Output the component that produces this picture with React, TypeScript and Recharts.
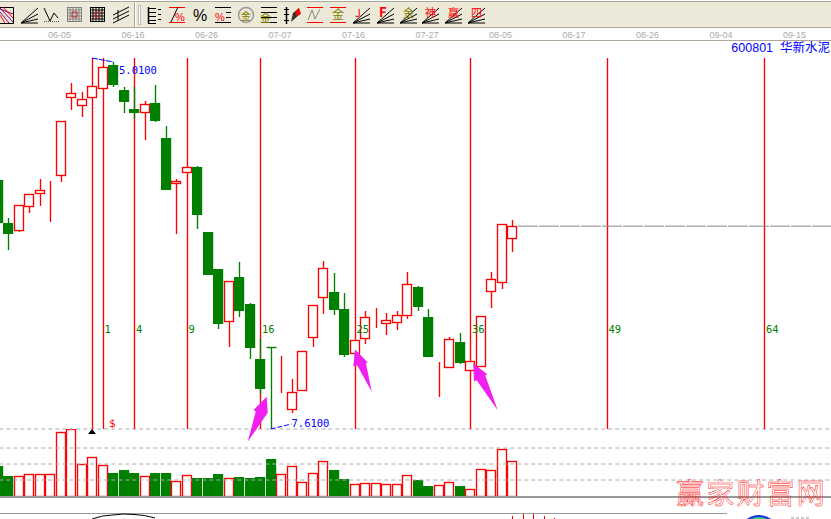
import { Bar, ComposedChart, Line, ReferenceDot, ReferenceLine, XAxis, YAxis } from "recharts";

const dates = [
  "05-27", "06-01", "06-02", "06-03", "06-04", "06-05", "06-08", "06-09", "06-10", "06-11",
  "06-12", "06-15", "06-16", "06-17", "06-18", "06-19", "06-22", "06-23", "06-24", "06-26",
  "06-29", "06-30", "07-01", "07-02", "07-03", "07-06", "07-07", "07-08", "07-09", "07-10",
  "07-13", "07-14", "07-15", "07-16", "07-17", "07-20", "07-21", "07-22", "07-23", "07-24",
  "07-27", "07-28", "07-29", "07-30", "07-31", "08-03", "08-04", "08-05", "08-06", "08-07",
  "08-10", "08-11", "08-12", "08-13", "08-17", "08-18", "08-19", "08-20", "08-21", "08-24",
  "08-25", "08-26", "08-27", "08-28", "08-31", "09-01", "09-02", "09-03", "09-04", "09-07",
  "09-08", "09-09", "09-10", "09-11", "09-14", "09-15", "09-16", "09-17", "09-18", "09-21",
];
const dateTicks = ["06-05", "06-16", "06-26", "07-07", "07-16", "07-27", "08-05", "08-17", "08-26", "09-04", "09-15"];

const opens = [
  12.63, 11.76, 11.6, 12.09, 12.35, 12.53, 12.71, 14.28, 14.12, 14.28,
  14.47, 14.95, 14.45, 14.06, 13.98, 14.18, 13.48, 12.55, 12.77, 12.89,
  11.58, 10.84, 9.77, 10.68, 10.13, 9.02, 9.26, 8.82, 7.99, 8.38,
  9.44, 10.25, 10.37, 10.03, 9.12, 9.42, 9.81, 9.73, 9.75, 9.89,
  10.47, 9.87, 8.74, 8.84, 9.36, 8.78, 8.86, 10.37, 10.55, 11.44,
];
const highs = [
  12.63, 11.86, 12.13, 12.35, 12.65, 12.61, 13.82, 14.59, 14.41, 14.53,
  14.91, 15.01, 14.51, 14.51, 14.22, 14.55, 13.72, 12.65, 12.89, 12.91,
  11.58, 10.84, 10.59, 10.98, 10.15, 9.42, 9.26, 9.08, 8.62, 9.18,
  10.11, 11.0, 10.76, 10.35, 9.4, 9.99, 10.05, 9.95, 9.99, 10.78,
  10.49, 10.03, 8.96, 9.47, 9.55, 8.98, 9.89, 10.78, 11.74, 11.82,
];
const lows = [
  11.76, 11.22, 11.58, 11.97, 12.11, 11.78, 12.59, 14.04, 13.9, 14.28,
  14.47, 14.51, 13.98, 13.86, 13.44, 13.8, 12.43, 11.54, 12.77, 11.64,
  10.72, 9.63, 9.26, 9.87, 9.02, 8.32, 7.61, 8.34, 7.93, 8.38,
  9.26, 9.93, 9.91, 9.06, 9.12, 9.32, 9.65, 9.51, 9.61, 9.83,
  9.99, 9.06, 8.26, 8.84, 8.92, 8.78, 8.86, 10.05, 10.43, 11.18,
];
const closes = [
  11.76, 11.54, 12.13, 12.35, 12.43, 12.53, 13.82, 14.39, 14.26, 14.53,
  14.91, 14.55, 14.2, 13.98, 14.16, 13.82, 12.43, 12.61, 12.89, 11.93,
  10.72, 9.73, 10.59, 9.99, 9.24, 8.42, 9.25, 8.82, 8.36, 9.18,
  10.11, 10.86, 10.01, 9.1, 9.4, 9.87, 9.81, 9.81, 9.91, 10.53,
  10.07, 9.06, 8.74, 9.42, 8.94, 8.98, 9.89, 10.63, 11.74, 11.7,
];
const volumes = [
  18.8, 12.5, 12.5, 13.8, 13.8, 13.8, 40, 41.9, 20, 24.4,
  19.4, 14.4, 16.3, 14.4, 12.5, 14.4, 14.4, 9.4, 13.1, 11.3,
  11.3, 13.8, 11.3, 11.9, 11.3, 11.9, 23.1, 13.8, 18.8, 8.8,
  14.4, 21.9, 16.3, 10.6, 7.5, 8.1, 8.1, 7.5, 7.5, 13.1,
  10, 6.3, 6.9, 8.8, 6.3, 4.4, 16.9, 16.3, 29.4, 21.9,
];

const volumeGrid = [10, 20, 30, 41.875];

const fibOrigin = "06-11";
const fibDates = ["06-12", "06-17", "06-24", "07-06", "07-17", "08-03", "08-21", "09-11"];
const fibLabels = ["1", "4", "9", "16", "25", "36", "49", "64"];

// lower indicator panel, only its top edge is in the picture
const curveDates = ["06-11", "06-12", "06-15", "06-16", "06-17", "06-18", "06-19"];
const curveValues = [6, 9, 10, 11, 10.5, 9.5, 7];
const stickDates = ["08-07", "08-10", "08-11", "08-12", "08-13"];
const stickValues = [9, 11, 11, 9, 7];

const RED = "#ff0000";
const GREEN = "#008000";
const BLUE = "#0000ff";
const MONO = "'DejaVu Sans Mono', monospace";
const CJK = "'Noto Sans CJK SC', sans-serif";
const LINE_WIDTH = 1.35;

const rows = dates.map((date, i) => ({
  date,
  open: opens[i],
  high: highs[i],
  low: lows[i],
  close: closes[i],
  range: i < opens.length ? [lows[i], highs[i]] : null,
  volume: volumes[i] ?? null,
  curve: curveDates.includes(date) ? curveValues[curveDates.indexOf(date)] : null,
  stick: stickDates.includes(date) ? stickValues[stickDates.indexOf(date)] : null,
}));

const snap = (center: number) => Math.ceil(center - 0.01) + 0.5;

const Candle = (props: any) => {
  const { x, y, width, height, payload } = props;
  if (!payload || payload.open == null) return null;
  const { open, high, low, close } = payload;
  const k = height / (high - low);
  const col = snap(x + width / 2);
  const top = Math.round(y + (high - Math.max(open, close)) * k);
  const bottom = Math.round(y + (high - Math.min(open, close)) * k);
  const up = close >= open;
  const color = up ? RED : GREEN;
  return (
    <g>
      <line x1={col} x2={col} y1={Math.round(y)} y2={Math.round(y + height)} stroke={color} strokeWidth={LINE_WIDTH} />
      {up ? (
        <rect x={col - 5} y={top + 0.5} width={9} height={Math.max(bottom - top - 1, 0)} fill="#fff" stroke={color} strokeWidth={LINE_WIDTH} />
      ) : bottom - top < 2 ? (
        <line x1={col - 5} x2={col + 5} y1={top + 0.5} y2={top + 0.5} stroke={color} strokeWidth={LINE_WIDTH} />
      ) : (
        <rect x={col - 5.5} y={top} width={10.2} height={bottom - top} fill={color} />
      )}
    </g>
  );
};

const VolumeBar = (props: any) => {
  const { x, y, width, height, payload } = props;
  if (!payload || payload.volume == null) return null;
  const col = snap(x + width / 2);
  const top = Math.round(y);
  const bottom = Math.round(y + height);
  return payload.close >= payload.open ? (
    <rect x={col - 5} y={top + 0.5} width={9} height={bottom - top} fill="#fff" stroke={RED} strokeWidth={LINE_WIDTH} />
  ) : (
    <rect x={col - 5.5} y={top} width={10.2} height={bottom - top} fill={GREEN} />
  );
};

const Stick = (props: any) => {
  const { x, y, width, height } = props;
  if (height == null) return null;
  const col = snap(x + width / 2);
  return <line x1={col} x2={col} y1={y} y2={y + height} stroke={RED} shapeRendering="crispEdges" />;
};

const FibLine = ({ x1, y1, y2 }: any) => (
  <line x1={snap(x1)} x2={snap(x1)} y1={y1} y2={y2} stroke={RED} strokeWidth={LINE_WIDTH} />
);

const DateTick = (props: any) => (
  <text x={props.x - 2} y={38} fontSize={9} fill="#aaaaaa" fontFamily="'Liberation Sans', sans-serif">
    {props.payload.value}
  </text>
);

const PriceText = ({ cx, cy, value }: any) => (
  <text x={cx + 6} y={cy + 12} fontSize={10.5} fill={BLUE} fontFamily={MONO}>
    {value}
  </text>
);

const FibText = ({ cx, cy, value }: any) => (
  <text x={cx + 2} y={cy + 4} fontSize={10.5} fill={GREEN} fontFamily={MONO}>
    {value}
  </text>
);

const Arrow = ({ cx, cy, dx, points }: any) => (
  <polygon transform={`translate(${cx + dx} ${cy})`} points={points} fill="#f020f0" />
);

const ArrowOne = "0,0 1,16 -19,45 -11,15 -13,13";
const ArrowTwo = "0,0 12.7,13.3 11,14 16.7,42.7 2.3,16.3 -1.7,17.3";
const ArrowThree = "0,0 14,10.7 12,12 24.4,46.7 3.4,16.7 0.7,18";

const chartProps = { width: 841, data: rows, barCategoryGap: 0 };

const PriceChart = () => (
  <div style={{ position: "absolute", left: -8, top: 0 }}>
    <ComposedChart {...chartProps} height={519} margin={{ left: 0.25, right: 0.75, top: 34, bottom: 90 }}>
      <XAxis
        dataKey="date"
        orientation="top"
        height={24}
        ticks={dateTicks}
        interval={0}
        tick={<DateTick />}
        tickLine={false}
        axisLine={false}
      />
      <YAxis hide domain={[7.61, 15.09]} allowDataOverflow />
      <ReferenceLine x={fibOrigin} zIndex={100} shape={<FibLine />} />
      {fibDates.map((d) => (
        <ReferenceLine key={d} x={d} zIndex={100} shape={<FibLine />} />
      ))}
      <ReferenceLine
        y={11.7}
        zIndex={100}
        shape={({ x2, y1 }: any) => <line x1={526} x2={x2} y1={y1} y2={y1} stroke="#888888" strokeDasharray="20 1" />}
      />
      <Bar dataKey="range" barSize={10} shape={<Candle />} isAnimationActive={false} />
      <ReferenceLine
        segment={[
          { x: "06-11", y: 15.09 },
          { x: "06-15", y: 15.01 },
        ]}
        stroke={BLUE}
        strokeDasharray="6 1"
      />
      <ReferenceLine
        segment={[
          { x: "07-07", y: 7.61 },
          { x: "07-09", y: 7.71 },
        ]}
        stroke={BLUE}
        strokeDasharray="5 2"
      />
      <ReferenceDot x="06-15" y={15.01} r={0} shape={(p: any) => <PriceText {...p} value="5.0100" />} />
      <ReferenceDot x="07-09" y={7.61} r={0} shape={(p: any) => <PriceText cx={p.cx - 6} cy={p.cy - 14} value="7.6100" />} />
      {fibDates.map((d, i) => (
        <ReferenceDot key={d} x={d} y={9.63} r={0} shape={(p: any) => <FibText {...p} value={fibLabels[i]} />} />
      ))}
      <ReferenceDot
        x="06-11"
        y={7.61}
        r={0}
        shape={({ cx, cy }: any) => <polygon transform={`translate(${cx} ${cy})`} points="-4,5 0,0 4,5" fill="#000" />}
      />
      <ReferenceDot
        x="06-11"
        y={7.61}
        r={0}
        shape={({ cx, cy }: any) => (
          <text x={cx + 17} y={cy - 2} fontSize={11} fill={RED} fontFamily={MONO}>
            $
          </text>
        )}
      />
      <ReferenceDot x="07-06" y={8.26} r={0} shape={(p: any) => <Arrow {...p} dx={6.7} points={ArrowOne} />} />
      <ReferenceDot x="07-17" y={9.22} r={0} shape={(p: any) => <Arrow {...p} dx={0.5} points={ArrowTwo} />} />
      <ReferenceDot x="08-03" y={8.93} r={0} shape={(p: any) => <Arrow {...p} dx={3.3} points={ArrowThree} />} />
    </ComposedChart>
  </div>
);

const VolumeChart = () => (
  <div style={{ position: "absolute", left: -8, top: 425 }}>
    <ComposedChart {...chartProps} height={75} margin={{ left: 0.25, right: 0.75, top: 4, bottom: 4 }}>
      <XAxis dataKey="date" hide />
      <YAxis hide domain={[0, 41.875]} allowDataOverflow />
      {volumeGrid.map((v) => (
        <ReferenceLine key={v} y={v} stroke="#aaaaaa" strokeDasharray="4 3" />
      ))}
      <Bar dataKey="volume" barSize={10} shape={<VolumeBar />} isAnimationActive={false} />
    </ComposedChart>
  </div>
);

const LowerChart = () => (
  <div style={{ position: "absolute", left: -8, top: 513 }}>
    <ComposedChart {...chartProps} height={12} margin={{ left: 0.25, right: 0.75, top: 0, bottom: 0 }}>
      <XAxis dataKey="date" hide />
      <YAxis hide domain={[0, 12]} allowDataOverflow />
      <Bar dataKey="stick" barSize={10} shape={<Stick />} isAnimationActive={false} />
      <Line dataKey="curve" stroke="#000" dot={false} isAnimationActive={false} />
    </ComposedChart>
  </div>
);

const Fan = ({ x }: { x: number }) => (
  <g stroke="#000" fill="none">
    <line x1={x} y1={23} x2={x + 17} y2={8} />
    <line x1={x} y1={23} x2={x + 17} y2={14} />
    <line x1={x} y1={23} x2={x + 17} y2={19} />
    <line x1={x} y1={23} x2={x + 17} y2={23} />
  </g>
);

const fanIcons = [
  { x: 353, label: "J", color: RED },
  { x: 377, label: "F", color: RED },
  { x: 400, label: "金", color: "#808000" },
  { x: 422, label: "神", color: RED },
  { x: 445, label: "赢", color: RED },
  { x: 468, label: "四", color: RED },
];

const Rules = ({ x, w, color, ys }: { x: number; w: number; color: string; ys: number[] }) => (
  <g stroke={color}>
    {ys.map((y) => (
      <line key={y} x1={x} x2={x + w} y1={y + 0.5} y2={y + 0.5} />
    ))}
  </g>
);

const Grid = ({ x, color }: { x: number; color: string }) => (
  <g stroke={color} fill="none">
    <rect x={x + 0.5} y={7.5} width={14} height={14} />
    {[3, 6, 9, 12].map((d) => (
      <g key={d}>
        <line x1={x + d} x2={x + d} y1={7} y2={22} />
        <line x1={x} x2={x + 15} y1={7 + d} y2={7 + d} />
      </g>
    ))}
    <rect x={x + 5} y={12} width={5} height={5} stroke="#c03030" />
  </g>
);

const Toolbar = () => (
  <svg width={831} height={42} style={{ position: "absolute", left: 0, top: 0 }}>
    <rect x={0} y={1} width={831} height={26} fill="#ece9d8" />
    <line x1={0} x2={831} y1={1.5} y2={1.5} stroke="#aca899" />
    <line x1={0} x2={831} y1={27.5} y2={27.5} stroke="#aca899" />
    <line x1={0} x2={831} y1={40.5} y2={40.5} stroke="#aca899" />
    <line x1={134.5} x2={134.5} y1={2} y2={27} stroke="#aca899" />
    <line x1={135.5} x2={135.5} y1={2} y2={27} stroke="#fff" />
    <rect x={138.5} y={5.5} width={2} height={19} fill="#fff" stroke="#bbb" />

    <g fill="none">
      <path d="M0 7.5H13.5V23.5H0" stroke="#000" />
      <path d="M0 8L13 22M0 12L9 23M0 9L13 14" stroke="#800080" />
      <path d="M0 15L5 23M3 7L13 18" stroke={RED} />
    </g>
    <Fan x={21} />
    <path d="M44 8L50 21L54 13L58 18" stroke="#000" fill="none" />
    <line x1={44} x2={59} y1={21.5} y2={21.5} stroke="#555" strokeDasharray="1 1" />
    <Grid x={67} color="#808080" />
    <Grid x={90} color="#000" />
    <g stroke="#000">
      <line x1={113} y1={15} x2={129} y2={7} />
      <line x1={113} y1={19} x2={129} y2={11} />
      <line x1={113} y1={23} x2={129} y2={15} />
      <line x1={118} y1={10} x2={118} y2={21} />
    </g>
    <line x1={148.5} x2={148.5} y1={7} y2={23} stroke="#000" strokeWidth={1.5} />
    <Rules x={148} w={8} color="#000" ys={[8, 12, 16, 20, 23]} />
    <Rules x={158} w={3} color="#000" ys={[9, 14, 19]} />
    <Rules x={169} w={16} color={RED} ys={[7, 22]} />
    <line x1={171} y1={22} x2={178} y2={7} stroke="#000" />
    <text x={175} y={21} fontSize={11} fill={RED} fontFamily="'Liberation Sans', sans-serif">%</text>
    <text x={193} y={21} fontSize={16} fill="#000" fontFamily="'Liberation Sans', sans-serif">%</text>
    <Rules x={215} w={16} color="#000" ys={[7, 22]} />
    <Rules x={226} w={5} color="#000" ys={[12, 17]} />
    <text x={215} y={21} fontSize={11} fill={RED} fontFamily="'Liberation Sans', sans-serif">%</text>
    <circle cx={246} cy={15} r={7.5} fill="none" stroke="#999" strokeWidth={1.5} />
    <text x={241} y={20} fontSize={10} fill="#808000" fontFamily={CJK}>金</text>
    <Rules x={261} w={16} color="#000" ys={[7, 12, 17, 22]} />
    <text x={260} y={22} fontSize={11} fill="#808000" fontFamily={CJK}>金</text>
    <line x1={286.5} x2={286.5} y1={7} y2={24} stroke="#000" strokeWidth={1.5} />
    <Rules x={284} w={5} color="#000" ys={[9, 14, 20]} />
    <path d="M291 22L293 13L299 8L300 14Z" fill="#333" />
    <path d="M295 12L299 8L301 14L297 16Z" fill={RED} />
    <Rules x={307} w={16} color={RED} ys={[7, 22]} />
    <path d="M308 20L312 10L315 19L320 9" stroke="#888" fill="none" />
    <Rules x={330} w={16} color={RED} ys={[7, 22]} />
    <text x={332} y={19} fontSize={12} fill="#808000" fontFamily={CJK}>金</text>
    {fanIcons.map((icon) => (
      <g key={icon.x}>
        <Fan x={icon.x} />
        <text
          x={icon.x + (icon.label === "J" ? 2 : icon.label === "F" ? 2 : 3)}
          y={17}
          fontSize={icon.label === "F" ? 13 : 11}
          fontWeight={icon.label === "F" ? 700 : 400}
          fill={icon.color}
          fontFamily={CJK}
        >
          {icon.label}
        </text>
      </g>
    ))}
  </svg>
);

const App = () => (
  <div style={{ position: "absolute", left: 0, top: 0, width: 831, height: 519, overflow: "hidden", background: "#fff" }}>
    <Toolbar />
    <div
      style={{
        position: "absolute",
        right: 1,
        top: 41,
        color: BLUE,
        fontSize: 12.5,
        lineHeight: "14px",
        fontFamily: "'Liberation Sans', 'Noto Sans CJK SC', sans-serif",
        whiteSpace: "pre",
      }}
    >
      600801  华新水泥
    </div>
    <VolumeChart />
    <PriceChart />
    <div style={{ position: "absolute", left: 0, top: 496, width: 831, height: 2, background: "#999999" }} />
    <div style={{ position: "absolute", left: 0, top: 513, width: 727, height: 1, background: "#999999" }} />
    <LowerChart />
    <svg width={831} height={519} style={{ position: "absolute", left: 0, top: 0, pointerEvents: "none" }}>
      <ellipse cx={759} cy={527} rx={16} ry={12} fill="#2030e0" />
      <ellipse cx={759} cy={528} rx={14} ry={11} fill="#30d090" />
      <line x1={791} x2={810} y1={518} y2={518} stroke="#9090a0" strokeDasharray="3 2" />
      <text
        x={676}
        y={504}
        fontSize={28}
        letterSpacing={2.2}
        fill="none"
        stroke={RED}
        strokeWidth={0.45}
        fontFamily={CJK}
      >
        赢家财富网
      </text>
    </svg>
  </div>
);

export default App;
